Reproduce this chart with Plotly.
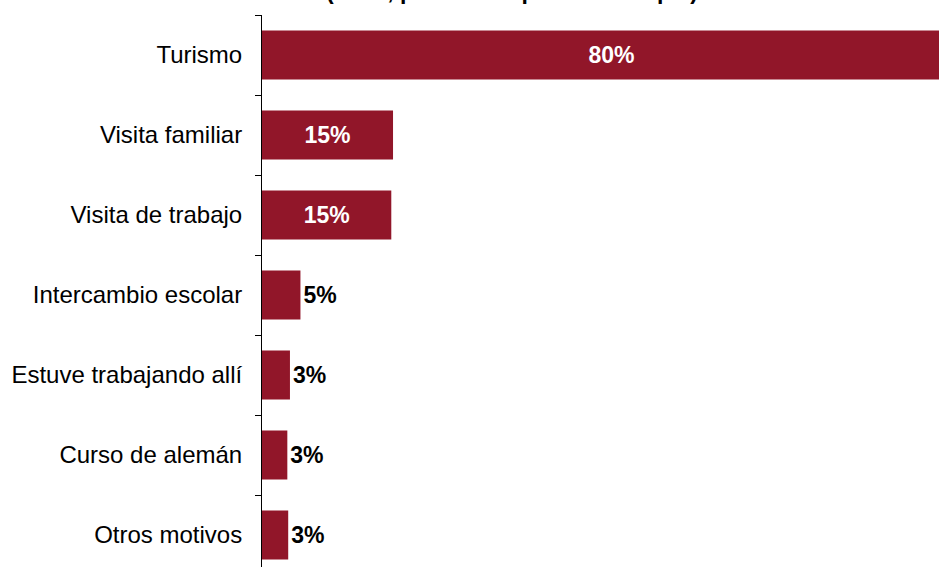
import plotly.graph_objects as go

categories = ["Turismo", "Visita familiar", "Visita de trabajo", "Intercambio escolar",
              "Estuve trabajando allí", "Curso de alemán", "Otros motivos"]
values = [80, 15.0, 14.8, 4.4, 3.2, 2.9, 3.0]
labels = ["80%", "15%", "15%", "5%", "3%", "3%", "3%"]
title_text = "(en %, posible respuesta múltiple)"

BAR = "#911629"
W, H = 939, 567
ML, MR, MT, MB = 262, 0, 15, 0
PH = H - MT - MB

inside = [v >= 10 for v in values]

fig = go.Figure()
fig.add_trace(go.Bar(
    y=categories, x=values, orientation="h",
    marker=dict(color=BAR, line=dict(width=0)),
    width=0.61,
    text=labels,
    textposition=["inside" if i else "outside" for i in inside],
    insidetextanchor="middle",
    textfont=dict(family="Liberation Sans, Arial", size=23,
                  color=["white" if i else "black" for i in inside],
                  weight="bold"),
    cliponaxis=True,
    constraintext="none",
))

fig.update_layout(
    width=W, height=H,
    margin=dict(l=ML, r=MR, t=MT, b=MB, pad=0),
    plot_bgcolor="white", paper_bgcolor="white",
    showlegend=False,
    bargap=0.39,
    font=dict(family="Liberation Sans, Arial", size=24, color="black"),
    xaxis=dict(range=[0, 77.5], visible=False, showgrid=False, zeroline=False),
    yaxis=dict(
        type="category", categoryorder="array", categoryarray=categories,
        range=[-0.5 + PH / 80.0, -0.5], autorange=False,
        showline=True, linecolor="black", linewidth=1,
        ticks="outside", ticklen=6, tickcolor="black", tickson="boundaries",
        showgrid=False, zeroline=False,
        ticklabelstandoff=14,
        tickfont=dict(size=24, color="black"),
    ),
    annotations=[dict(
        text=title_text, xref="paper", yref="paper",
        x=(700 - ML) / (W - ML - MR), y=1 + 8.5 / PH,
        xanchor="right", yanchor="bottom", showarrow=False,
        font=dict(size=23, color="black", weight="bold"),
    )],
)

fig.write_html(
    "out.html",
    config={"displayModeBar": False},
    post_script="document.body.style.margin='0';document.body.style.overflow='hidden';",
)
